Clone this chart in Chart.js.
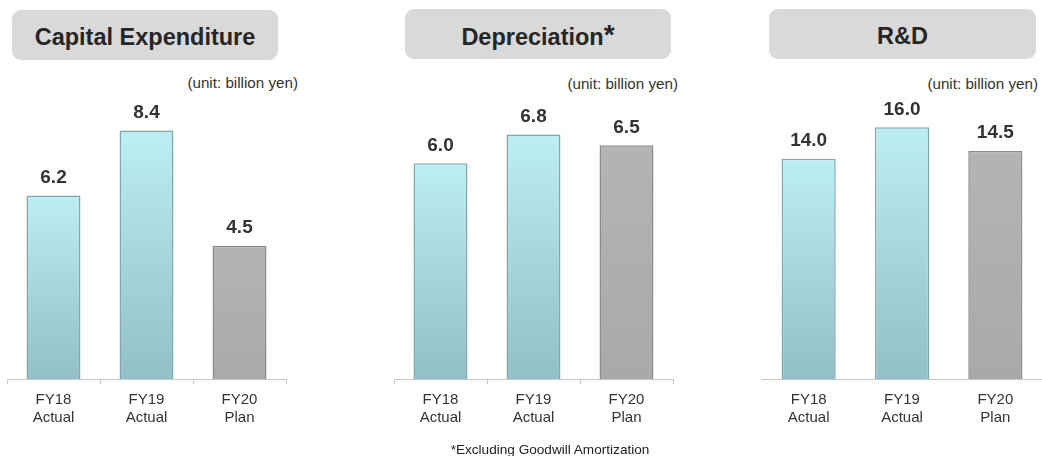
<!DOCTYPE html>
<html>
<head>
<meta charset="utf-8">
<script src="https://cdn.jsdelivr.net/npm/chart.js@4.4.1/dist/chart.umd.min.js"></script>
<style>
  html, body { margin: 0; padding: 0; background: #ffffff; }
  body { width: 1042px; height: 456px; position: relative; overflow: hidden; font-family: "Liberation Sans", Arial, sans-serif; }
  .title { position: absolute; background: #d9d9d9; border-radius: 9px; color: #262626; font-weight: bold; font-size: 23.5px; text-align: center; height: 50px; line-height: 54px; }
  .title .ast { font-size: 28px; position: relative; top: -1px; }
  .unit { position: absolute; font-size: 15.2px; color: #333; text-align: right; width: 200px; line-height: 18px; }
  .box { position: absolute; top: 94px; height: 350px; }
  .note { position: absolute; left: 350px; width: 400px; text-align: center; top: 442px; font-size: 13.6px; color: #222; }
</style>
</head>
<body>
<div class="title" style="left:12px; top:10px; width:266px;">Capital Expenditure</div>
<div class="title" style="left:405px; top:9px; width:266px;">Depreciation<span class="ast">*</span></div>
<div class="title" style="left:769px; top:9px; width:267px;">R&amp;D</div>
<div class="unit" style="left:98px; top:74px;">(unit: billion yen)</div>
<div class="unit" style="left:478px; top:75px;">(unit: billion yen)</div>
<div class="unit" style="left:838px; top:75px;">(unit: billion yen)</div>
<div class="box" style="left:0px; width:300px;"><canvas id="c1"></canvas></div>
<div class="box" style="left:380px; width:310px;"><canvas id="c2"></canvas></div>
<div class="box" style="left:750px; width:292px;"><canvas id="c3"></canvas></div>
<div class="note">*Excluding Goodwill Amortization</div>
<script>
const categories = [["FY18", "Actual"], ["FY19", "Actual"], ["FY20", "Plan"]];
const capexValues = [6.2, 8.4, 4.5];
const deprValues = [6.0, 6.8, 6.5];
const rdValues = [14.0, 16.0, 14.5];
const isPlan = [false, false, true];

const valueLabels = {
  id: 'valueLabels',
  afterDatasetsDraw(chart) {
    const ctx = chart.ctx;
    const meta = chart.getDatasetMeta(0);
    const data = chart.data.datasets[0].data;
    ctx.save();
    ctx.font = 'bold 19px "Liberation Sans", Arial, sans-serif';
    ctx.fillStyle = '#333333';
    ctx.textAlign = 'center';
    ctx.textBaseline = 'middle';
    meta.data.forEach((bar, i) => {
      ctx.fillText(Number(data[i]).toFixed(1), bar.x, bar.y - 18);
    });
    ctx.restore();
  }
};

function barFill(c) {
  const plan = isPlan[c.dataIndex];
  const chart = c.chart;
  const ys = chart.scales && chart.scales.y;
  if (!ys || c.raw === undefined) return plan ? '#aeaeae' : '#a8d8dc';
  const top = ys.getPixelForValue(c.raw);
  const bottom = ys.getPixelForValue(0);
  if (!isFinite(top) || !isFinite(bottom) || top === bottom) return plan ? '#aeaeae' : '#a8d8dc';
  const g = chart.ctx.createLinearGradient(0, top, 0, bottom);
  if (plan) {
    g.addColorStop(0, '#b4b4b4');
    g.addColorStop(1, '#a9a9a9');
  } else {
    g.addColorStop(0, '#bdeef2');
    g.addColorStop(1, '#92c0c4');
  }
  return g;
}

function makeChart(id, values, yMax, padL, padR, showTicks) {
  return new Chart(document.getElementById(id), {
    type: 'bar',
    data: {
      labels: categories,
      datasets: [{
        data: values,
        backgroundColor: barFill,
        borderColor: c => isPlan[c.dataIndex] ? '#8a8a8a' : '#7fa8ac',
        borderWidth: 1.5,
        borderSkipped: 'bottom',
        barPercentage: 0.58,
        categoryPercentage: 1.0
      }]
    },
    options: {
      responsive: true,
      maintainAspectRatio: false,
      animation: false,
      events: [],
      layout: { padding: { top: 6, left: padL, right: padR, bottom: 10 } },
      plugins: { legend: { display: false }, tooltip: { enabled: false } },
      scales: {
        x: {
          offset: true,
          grid: {
            display: true,
            drawOnChartArea: false,
            drawTicks: true,
            tickLength: 5,
            color: showTicks ? '#c8c8c8' : 'rgba(0,0,0,0)',
            offset: true
          },
          border: { display: true, color: '#c8c8c8', width: 1 },
          ticks: {
            color: '#333333',
            padding: 7,
            maxRotation: 0,
            font: { family: '"Liberation Sans", Arial, sans-serif', size: 15, lineHeight: 1.2 }
          }
        },
        y: {
          display: false,
          min: 0,
          max: yMax
        }
      }
    },
    plugins: [valueLabels]
  });
}

makeChart('c1', capexValues, 9.43, 7, 14, true);
makeChart('c2', deprValues, 7.76, 14, 17, true);
makeChart('c3', rdValues, 17.74, 12, 0, false);
</script>
</body>
</html>
